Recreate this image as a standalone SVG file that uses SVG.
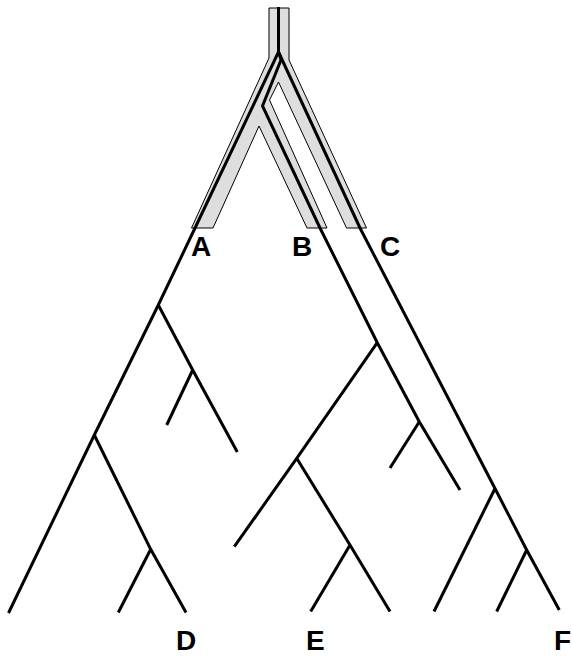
<svg xmlns="http://www.w3.org/2000/svg" width="572" height="656" viewBox="0 0 572 656">
  <style>
    .tube { fill: #dedede; stroke: #000; stroke-width: 1; stroke-linejoin: miter; }
    .lin { fill: none; stroke: #000; stroke-width: 3; stroke-linecap: butt; stroke-linejoin: miter; }
    .lbl { font-family: "Liberation Sans", Arial, sans-serif; font-weight: bold; font-size: 28px; fill: #000; }
  </style>
  <rect width="572" height="656" fill="#fff"/>
  <g id="species-tree">
    <polygon class="tube" points="269,8 289,8 289,60 366.5,228 346.5,228 278.5,82 269.5,100 327,228 307,228 259,126 213,228 191.5,228 269,58"/>
  </g>
  <g id="connectors">
    <polyline class="lin" points="278.5,7 278.5,52 195.5,227 158.3,305 94.3,435 8.5,613"/>
    <polyline class="lin" points="158.3,305 192.7,370 237.3,452"/>
    <polyline class="lin" points="192.7,370 166.7,425"/>
    <polyline class="lin" points="94.3,435 150.7,549.3 186,612.5"/>
    <polyline class="lin" points="150.7,549.3 118.3,612.5"/>
    <polyline class="lin" points="279,53 281,60 262.5,106 320,228 377.3,342.7 419.3,421.7 460,490"/>
    <polyline class="lin" points="419.3,421.7 390,468"/>
    <polyline class="lin" points="377.3,342.7 296.7,458.3 234.3,546.7"/>
    <polyline class="lin" points="296.7,458.3 350,545 390,611.5"/>
    <polyline class="lin" points="350,545 310.7,611.5"/>
    <polyline class="lin" points="278.5,52 360,228 495,488.5 526.7,550 559.3,610"/>
    <polyline class="lin" points="495,488.5 434,611.5"/>
    <polyline class="lin" points="526.7,550 496.7,611.5"/>
  </g>
  <g id="label-A"><text class="lbl" x="191" y="256">A</text></g>
  <g id="label-B"><text class="lbl" x="292" y="256">B</text></g>
  <g id="label-C"><text class="lbl" x="380" y="256">C</text></g>
  <g id="label-D"><text class="lbl" x="176" y="650">D</text></g>
  <g id="label-E"><text class="lbl" x="306" y="650">E</text></g>
  <g id="label-F"><text class="lbl" x="554" y="650">F</text></g>
</svg>
